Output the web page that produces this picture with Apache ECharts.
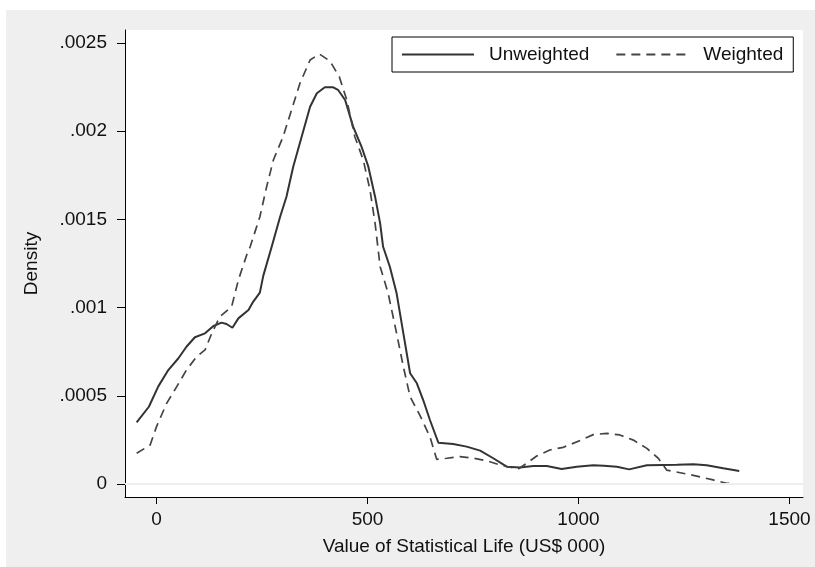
<!DOCTYPE html>
<html>
<head>
<meta charset="utf-8">
<script src="https://cdn.jsdelivr.net/npm/echarts@6/dist/echarts.min.js"></script>
<style>
  html, body { margin: 0; padding: 0; background: #ffffff; width: 815px; height: 567px; overflow: hidden; }
  #chart { position: absolute; left: 6px; top: 10px; width: 809px; height: 557px; }
</style>
</head>
<body>
<div id="chart"></div>
<script>
// ---- Data ----
const seriesNames = ['Unweighted', 'Weighted'];

const unweightedX = [-47, -18, 4, 28, 52, 71, 91, 115, 135, 154, 166, 180, 194, 218, 229, 245, 253, 273, 293, 308, 324, 344, 364, 380, 399, 419, 430, 447, 466, 486, 502, 518, 530, 537, 553, 569, 585, 601, 617, 632, 648, 668, 703, 735, 767, 798, 830, 861, 893, 925, 960, 996, 1035, 1060, 1091, 1120, 1162, 1201, 1233, 1272, 1304, 1343, 1381];
const unweightedY = [0.000350, 0.000438, 0.000552, 0.000646, 0.000713, 0.000778, 0.000832, 0.000854, 0.000896, 0.000915, 0.000907, 0.000886, 0.000939, 0.000986, 0.001033, 0.001085, 0.001180, 0.001345, 0.001515, 0.001629, 0.001799, 0.001969, 0.002139, 0.002215, 0.002249, 0.002249, 0.002235, 0.002177, 0.002026, 0.001912, 0.001799, 0.001629, 0.001478, 0.001345, 0.001232, 0.001081, 0.000854, 0.000628, 0.000571, 0.000476, 0.000363, 0.000234, 0.000227, 0.000212, 0.000189, 0.000146, 0.000098, 0.000093, 0.000102, 0.000102, 0.000085, 0.000098, 0.000106, 0.000104, 0.000098, 0.000083, 0.000106, 0.000108, 0.000109, 0.000112, 0.000106, 0.000089, 0.000074];

const weightedX = [-47, -15, 0, 24, 48, 71, 95, 115, 131, 150, 178, 194, 214, 222, 245, 261, 277, 300, 320, 340, 364, 386, 411, 433, 451, 470, 490, 506, 518, 530, 549, 569, 585, 601, 624, 648, 664, 688, 719, 751, 782, 814, 838, 857, 877, 901, 932, 964, 1004, 1035, 1067, 1098, 1130, 1162, 1189, 1209, 1241, 1280, 1319, 1351, 1381];
const weightedY = [0.000174, 0.000221, 0.000325, 0.000457, 0.000552, 0.000646, 0.000722, 0.000760, 0.000854, 0.000948, 0.001005, 0.001156, 0.001300, 0.001345, 0.001515, 0.001685, 0.001837, 0.001969, 0.002120, 0.002272, 0.002404, 0.002438, 0.002398, 0.002310, 0.002177, 0.001969, 0.001837, 0.001667, 0.001478, 0.001232, 0.001081, 0.000854, 0.000665, 0.000495, 0.000390, 0.000268, 0.000140, 0.000146, 0.000155, 0.000146, 0.000132, 0.000108, 0.000095, 0.000085, 0.000117, 0.000159, 0.000193, 0.000208, 0.000247, 0.000280, 0.000287, 0.000278, 0.000249, 0.000202, 0.000146, 0.000079, 0.000064, 0.000045, 0.000023, 0.000004, 0.000000];

const xTicks = [0, 500, 1000, 1500];
const xTickLabels = ['0', '500', '1000', '1500'];
const yTicks = [0, 0.0005, 0.001, 0.0015, 0.002, 0.0025];
const yTickLabels = ['0', '.0005', '.001', '.0015', '.002', '.0025'];

const xTitle = 'Value of Statistical Life (US$ 000)';
const yTitle = 'Density';

// ---- Build options ----
const pairs = (xs, ys) => xs.map((x, i) => [x, ys[i]]);
const FONT = 'Liberation Sans, Arial, Helvetica, sans-serif';
const labelFor = (ticks, labels) => (v) => {
  const i = ticks.findIndex(t => Math.abs(t - v) < 1e-9 * Math.max(1, Math.abs(t)));
  return i >= 0 ? labels[i] : '';
};

const chart = echarts.init(document.getElementById('chart'), null, { renderer: 'canvas' });

chart.setOption({
  backgroundColor: '#efefef',
  animation: false,
  textStyle: { fontFamily: FONT },
  grid: {
    left: 119, right: 12, top: 20, bottom: 70,
    show: true, backgroundColor: '#ffffff', borderWidth: 0
  },
  legend: {
    data: seriesNames,
    left: 386, top: 27,
    orient: 'horizontal',
    itemWidth: 72, itemHeight: 19, itemGap: 26,
    padding: [8, 10, 8, 9],
    backgroundColor: '#ffffff',
    borderColor: '#000000', borderWidth: 1, borderRadius: 0,
    itemStyle: { opacity: 0, borderWidth: 0 },
    textStyle: { fontSize: 19, color: '#111111', fontFamily: FONT, padding: [0, 0, 0, 10] }
  },
  xAxis: {
    type: 'value',
    min: -74.6, max: 1532,
    name: xTitle, nameLocation: 'middle', nameGap: 40,
    nameTextStyle: { fontSize: 19, color: '#111111', fontFamily: FONT },
    axisLine: { show: true, onZero: false, lineStyle: { color: '#000000', width: 1 } },
    axisTick: { show: true, customValues: xTicks, length: 7, lineStyle: { color: '#000000', width: 1 } },
    axisLabel: {
      show: true, customValues: xTicks, margin: 13, fontSize: 19, color: '#111111', fontFamily: FONT,
      formatter: labelFor(xTicks, xTickLabels)
    },
    splitLine: { show: false }
  },
  yAxis: {
    type: 'value',
    min: -0.0000737, max: 0.002574,
    name: yTitle, nameLocation: 'middle', nameGap: 84, nameRotate: 90,
    nameTextStyle: { fontSize: 19, color: '#111111', fontFamily: FONT },
    axisLine: { show: true, onZero: false, lineStyle: { color: '#000000', width: 1 } },
    axisTick: { show: true, customValues: yTicks, length: 8, lineStyle: { color: '#000000', width: 1 } },
    axisLabel: {
      show: true, customValues: yTicks, margin: 18, fontSize: 19, color: '#111111', fontFamily: FONT,
      formatter: labelFor(yTicks, yTickLabels)
    },
    splitLine: { show: false }
  },
  series: [
    {
      name: 'gridlines', type: 'line', data: [], z: 1, silent: true,
      markLine: {
        silent: true, symbol: ['none', 'none'], label: { show: false },
        lineStyle: { color: '#eeeeee', width: 2, type: 'solid' },
        emphasis: { disabled: true },
        data: yTicks.map(v => ({ yAxis: v }))
      }
    },
    {
      name: seriesNames[0], type: 'line', z: 3,
      data: pairs(unweightedX, unweightedY),
      showSymbol: false, symbol: 'none', smooth: false,
      lineStyle: { color: '#333333', width: 2, type: 'solid' },
      itemStyle: { color: '#333333' }
    },
    {
      name: seriesNames[1], type: 'line', z: 3,
      data: pairs(weightedX, weightedY),
      showSymbol: false, symbol: 'none', smooth: false,
      lineStyle: { color: '#444444', width: 1.7, type: [9, 6] },
      itemStyle: { color: '#444444' }
    }
  ]
});
</script>
</body>
</html>
